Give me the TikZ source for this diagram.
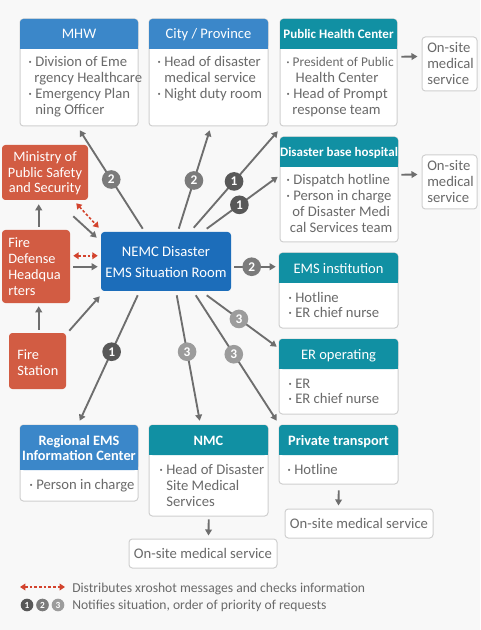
\documentclass[tikz,border=0pt]{standalone}
\usepackage{fontspec}
\setmainfont{Carlito}
\usetikzlibrary{arrows.meta,calc,fit}
\definecolor{bgc}{HTML}{F8F8F8}
\definecolor{bluec}{HTML}{3B87C9}
\definecolor{tealc}{HTML}{1190A3}
\definecolor{nemcc}{HTML}{1C6DBA}
\definecolor{orangec}{HTML}{D25C43}
\definecolor{arrowc}{HTML}{6E6E6E}
\definecolor{redc}{HTML}{D3432D}
\definecolor{borderc}{HTML}{D0D0D0}
\definecolor{txtc}{HTML}{6A6A6A}
\definecolor{bone}{HTML}{585858}
\definecolor{btwo}{HTML}{7B7B7B}
\definecolor{bthree}{HTML}{9C9C9C}
\tikzset{
  cardbox/.style={draw=borderc, fill=white, rounded corners=2.5pt, line width=0.75pt},
  head/.style={anchor=base, text=white, inner sep=0, font=\fontsize{10.9pt}{12pt}\selectfont},
  headb/.style={font=\fontsize{9.75pt}{12pt}\selectfont\bfseries},
  headbb/.style={font=\fontsize{10.75pt}{12pt}\selectfont\bfseries},
  body/.style={anchor=base west, inner sep=0, text=txtc, font=\fontsize{11pt}{12pt}\selectfont},
  bodyc/.style={anchor=base, inner sep=0, text=txtc, font=\fontsize{11pt}{12pt}\selectfont},
  wl/.style={anchor=base west, inner sep=0, text=white, font=\fontsize{10.75pt}{12pt}\selectfont},
  wc/.style={anchor=base, inner sep=0, text=white, font=\fontsize{10.75pt}{12pt}\selectfont},
  nemct/.style={anchor=base, inner sep=0, text=white, font=\fontsize{11pt}{12pt}\selectfont},
  conn/.style={draw=arrowc, line width=1.4pt, -{Triangle[length=4.5pt,width=5pt]}},
  reddash/.style={draw=redc, line width=1.2pt, dash pattern=on 2pt off 1.5pt,
     {Triangle[length=4pt,width=5pt]}-{Triangle[length=4pt,width=5pt]}},
  badge/.style={circle, fill=#1, text=white, inner sep=0, minimum size=14pt,
     font=\fontsize{10pt}{10pt}\selectfont\bfseries},
  smallbadge/.style={circle, fill=#1, text=white, inner sep=0, minimum size=9.5pt,
     font=\fontsize{7pt}{7pt}\selectfont\bfseries},
  onsite/.style={draw=borderc, fill=white, rounded corners=2.5pt, line width=0.75pt, inner sep=0},
  obox/.style={fill=orangec, rounded corners=2.5pt, inner sep=0},
  legendt/.style={anchor=base west, inner sep=0, text=txtc, font=\fontsize{10.2pt}{12pt}\selectfont},
}
\newcommand\card[9]{%
  \draw[cardbox] (#2,#3) rectangle (#4,#5);
  \fill[#7, rounded corners=2.5pt] (#2,#3) rectangle (#4,#6);
  \fill[#7] (#2,{#6-4}) rectangle (#4,#6);
  \node[fit={(#2,#3) (#4,#5)}, inner sep=0, name=#1] {};
  \node[head, #8, name=#1t] at ({(#2+#4)/2},{#3+20}) {#9};
}
\newcommand\txtlines[6]{%
  \foreach \t [count=\i] in {#6} {\node[#2, name=#1\i] at (#3, {#4+#5*(\i-1)}) {\t};}%
}
\begin{document}
\begin{tikzpicture}[x=0.75pt,y=-0.75pt]
\fill[bgc] (0,0) rectangle (480,630);
\useasboundingbox (0,0) rectangle (480,630);

% cards
\card{mhw}{20}{19}{138}{126}{49}{bluec}{}{MHW}
\card{city}{149}{19}{268}{126}{49}{bluec}{}{City / Province}
\card{phc}{280}{19}{397}{126}{49}{tealc}{headb}{Public Health Center}
\card{dbh}{280}{137}{398}{242}{167}{tealc}{headb}{Disaster base hospital}
\card{ems}{279}{253}{398}{328}{283}{tealc}{}{EMS institution}
\card{er}{279}{339}{398}{414}{369}{tealc}{}{ER operating}
\card{reg}{20}{425}{138}{501}{470}{bluec}{headbb}{Regional EMS}
\node[head, headbb, name=regt2] at (79,460) {Information Center};
\card{nmc}{149}{425}{268}{516}{455}{tealc}{headbb}{NMC}
\card{pt}{279}{425}{398}{484}{455}{tealc}{headbb}{Private transport}

% card bodies
\txtlines{mhwb}{body}{28}{67}{16}{{· Division of Eme},{\hphantom{·}\,rgency Healthcare},{· Emergency Plan},{\hphantom{· }ning Officer}}
\txtlines{cityb}{body}{157}{67}{16}{{· Head of disaster},{\hphantom{· }medical service},{· Night duty room}}
\node[body, font=\fontsize{10pt}{12pt}\selectfont, name=phcb1] at (286,67) {· President of Public};
\txtlines{phcb}{body}{286}{83}{16}{{\hphantom{· }\,Health Center},{· Head of Prompt},{\hphantom{·}\,response team}}
\txtlines{dbhb}{body}{286}{185}{15.7}{{· Dispatch hotline},{· Person in charge},{\hphantom{·}\,of Disaster Medi},{\hphantom{·}cal Services team}}
\txtlines{emsb}{body}{288}{302}{15.5}{{· Hotline},{· ER chief nurse}}
\txtlines{erb}{body}{288}{388}{15.5}{{· ER},{· ER chief nurse}}
\txtlines{regb}{body}{29}{489}{16}{{· Person in charge}}
\txtlines{nmcb}{body}{159}{474}{16}{{· Head of Disaster},{\hphantom{· }Site Medical},{\hphantom{· }Services}}
\txtlines{ptb}{body}{287}{474}{16}{{· Hotline}}

% on-site boxes
\node[onsite, fit={(422,37) (477,91)}, name=os1] {};
\node[onsite, fit={(422,155) (477,209)}, name=os2] {};
\node[onsite, fit={(129,539) (277,568)}, name=os3] {};
\node[onsite, fit={(285,509) (433,538)}, name=os4] {};
\txtlines{os1t}{body}{427}{53}{16}{{On-site},{medical},{service}}
\txtlines{os2t}{body}{427}{171}{16}{{On-site},{medical},{service}}
\node[bodyc, name=os3t] at (203,558) {On-site medical service};
\node[bodyc, name=os4t] at (359,528) {On-site medical service};

% orange boxes
\node[obox, fit={(2,145) (88,200)}, name=mpss] {};
\node[obox, fit={(2,230) (70,303)}, name=fdhq] {};
\node[obox, fit={(9,333) (66,389)}, name=fs] {};
\txtlines{mpsst}{wc}{45}{162}{15.5}{{Ministry of},{Public Safety},{and Security}}
\txtlines{fdhqt}{wl}{8}{248}{15.7}{{Fire},{Defense},{Headqua},{rters}}
\txtlines{fst}{wl}{17}{359}{16}{{Fire},{Station}}

% NEMC
\node[fill=nemcc, rounded corners=2.5pt, inner sep=0, fit={(101,232) (231,291)}, name=nemc] {};
\txtlines{nemct}{nemct}{166}{257}{20}{{NEMC Disaster},{EMS Situation Room}}

% connectors from NEMC
\draw[conn] ($(nemc.north west)+(42,-3)$) -- node[badge=btwo, pos=0.5] {2} ($(mhw.south west)+(60,4)$);
\draw[conn] ($(nemc.north west)+(78,-3)$) -- node[badge=btwo, pos=0.49] {2} ($(city.south west)+(61,4)$);
\draw[conn] ($(nemc.north west)+(93,-4)$) -- node[badge=bone, pos=0.48] {1} ($(phc.south west)+(-2,5)$);
\draw[conn] ($(nemc.north west)+(106,-3)$) -- node[badge=bone, pos=0.46] {1} ($(dbh.north west)+(-2,40)$);
\draw[conn] ($(nemc.north east)+(3,35)$) -- node[badge=btwo, pos=0.42] {2} ($(ems.north west)+(-3,14)$);
\draw[conn] ($(nemc.south west)+(106,4)$) -- node[badge=bthree, pos=0.46] {3} ($(er.north west)+(-2,8)$);
\draw[conn] ($(nemc.south west)+(95,4)$) -- node[badge=bthree, pos=0.47] {3} ($(pt.north west)+(-2,-4)$);
\draw[conn] ($(nemc.south west)+(76,4)$) -- node[badge=bthree, pos=0.45] {3} ($(nmc.north west)+(51,-4)$);
\draw[conn] ($(nemc.south west)+(37,4)$) -- node[badge=bone, pos=0.45] {1} ($(reg.north west)+(60,-4)$);

% left side connectors
\draw[conn] ($(fdhq.north east)+(3,37)$) -- ($(nemc.north west)+(-3,35)$);
\draw[reddash] ($(fdhq.north east)+(3,26)$) -- ($(nemc.north west)+(-3,24)$);
\draw[conn] ($(fdhq.north west)+(37,-3)$) -- ($(mpss.south west)+(37,4)$);
\draw[conn] ($(mpss.south east)+(-15,16)$) -- ($(nemc.north west)+(-4,6)$);
\draw[reddash] ($(mpss.south east)+(-12,3)$) -- ($(nemc.north west)+(-2,-4)$);
\draw[conn] ($(fs.north west)+(30,-3)$) -- ($(fdhq.south west)+(37,3)$);
\draw[conn] ($(fs.north east)+(3,-2)$) -- ($(nemc.south west)+(-1,5)$);

% to on-site
\draw[conn] ($(phc.north east)+(4,38)$) -- ($(os1.north west)+(-4,20)$);
\draw[conn] ($(dbh.north east)+(3,38)$) -- ($(os2.north west)+(-4,20)$);
\draw[conn] ($(nmc.south west)+(60,3)$) -- ($(os3.north west)+(80,-3)$);
\draw[conn] ($(pt.south west)+(60,6)$) -- ($(os4.north west)+(54,-3)$);

% legend
\coordinate (lga) at (20,587);
\coordinate (lgb) at (65,587);
\draw[reddash] (lga) -- (lgb);
\node[legendt, name=lgt1] at (72,592) {Distributes xroshot messages and checks information};
\node[smallbadge=bone, name=lgc1] at (27,605) {1};
\node[smallbadge=btwo, name=lgc2] at (42.5,605) {2};
\node[smallbadge=bthree, name=lgc3] at (58,605) {3};
\node[legendt, name=lgt2] at (72,609) {Notifies situation, order of priority of requests};
\end{tikzpicture}
\end{document}
